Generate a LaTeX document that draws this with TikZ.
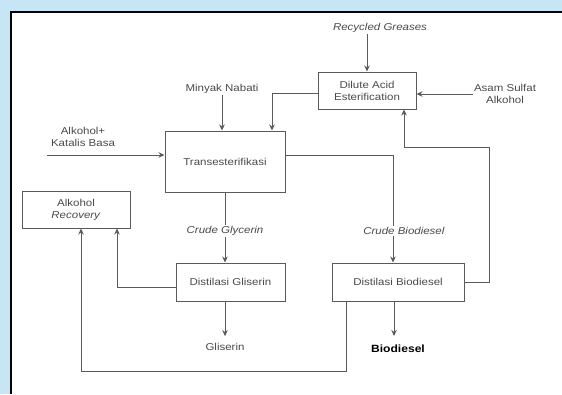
\documentclass[tikz,border=0pt]{standalone}
\usepackage{fontspec}
\setmainfont[FakeStretch=1.15]{Liberation Sans}
\usepackage{xcolor}
\usepackage{tikz}
\usetikzlibrary{arrows.meta,positioning,calc}
\definecolor{bgblue}{HTML}{C6E6F6}
\definecolor{linegray}{HTML}{5A5A5A}
\definecolor{txtgray}{HTML}{4A4A4A}

\begin{document}
\begin{tikzpicture}[x=1pt, y=-1pt, font=\fontsize{10}{12}\selectfont, >={Stealth[length=6pt,width=5.5pt]},
  box/.style={draw=linegray, line width=1pt, fill=white, align=center, inner sep=0pt, text=txtgray, minimum width=#1},
  box/.default=100pt,
  lbl/.style={align=center, inner sep=1pt, text=txtgray},
  flow/.style={->, draw=linegray, line width=1pt}]
% frame
\useasboundingbox (0,0) rectangle (562,394);
\fill[bgblue] (0,0) rectangle (562,394);
\fill[white] (11,12) rectangle (562,394);
\draw[black, line width=2pt] (11,394) -- (11,12) -- (562,12);
% boxes
\node[box=98pt, minimum height=37pt] (dilute) at (367,90.5) {Dilute Acid\\Esterification};
\node[box=120pt, minimum height=61pt] (trans) at (225,161.5) {Transesterifikasi};
\node[box=108pt, minimum height=37pt] (recov) at (76,209.5) {Alkohol\\\textit{Recovery}};
\node[box=109pt, minimum height=38pt] (glis) at (230.5,282) {Distilasi Gliserin};
\node[box=132pt, minimum height=38pt] (biod) at (398,282) {Distilasi Biodiesel};
% inputs and outputs
\node[lbl] (recyc) at (380,28) {\textit{Recycled Greases}};
\node[lbl] (asam) at (505,94) {Asam Sulfat\\Alkohol};
\node[lbl] (minyak) at (222,89) {Minyak Nabati};
\node[lbl] (alk) at (83,137) {Alkohol+\\Katalis Basa};
\node[lbl] (gliserin) at (225,347) {Gliserin};
\node[lbl, text=black, font=\fontsize{10.5}{12}\selectfont\bfseries] (biodiesel) at (398,349) {Biodiesel};
\coordinate (alkin) at (47,155);
\coordinate (ret) at (489,147);
% connectors
\draw[flow] (recyc.south -| dilute.north) -- (dilute.north);
\draw[flow] (asam.west) -- (asam.west -| dilute.east);
\draw[flow] (minyak.south) -- (minyak.south |- trans.north);
\draw[flow] ([yshift=-3pt]dilute.west) -| ([xshift=47pt]trans.north);
\draw[flow] (alkin) -- (alkin -| trans.west);
\draw[flow] ([yshift=6.5pt]trans.east) -| ([xshift=-5pt]biod.north);
\draw[flow] (trans.south) -- (trans.south |- glis.north);
\draw[flow] ([yshift=-5pt]glis.west) -| ([xshift=41pt]recov.south);
\draw[flow] ([xshift=-52pt]biod.south) -- ++(0,70) -| ([xshift=5pt]recov.south);
\draw[flow] (biod.east) -| (ret) -| ([xshift=37pt]dilute.south);
\draw[flow] (glis.south -| gliserin.north) -- ([yshift=6pt]gliserin.north);
\draw[flow] ([xshift=-4pt]biod.south) -- ([xshift=-4pt,yshift=8pt]biodiesel.north);
% stream labels
\node[lbl, fill=white] (crudeg) at (225,231) {\textit{Crude Glycerin}};
\node[lbl, fill=white] (crudeb) at (404,231) {\textit{Crude Biodiesel}};
\end{tikzpicture}
\end{document}
